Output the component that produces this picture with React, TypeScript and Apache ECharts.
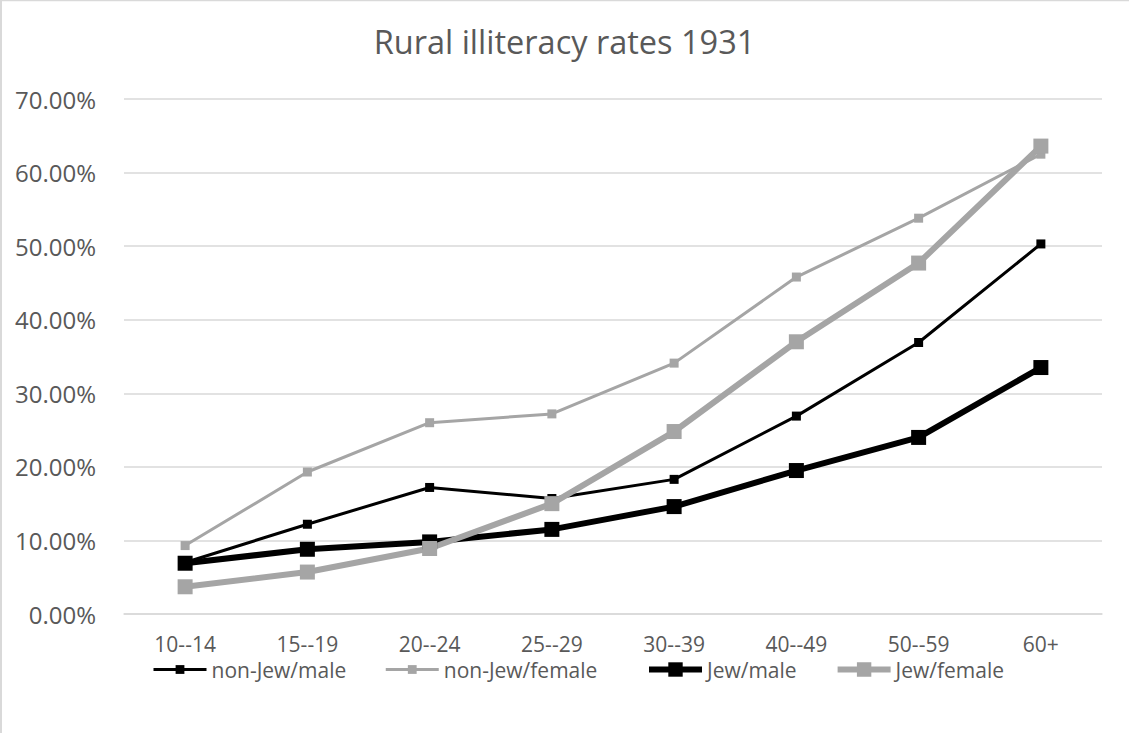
import React, { useEffect, useRef } from "react";
import * as echarts from "echarts";

// Age groups on the category axis
const ageGroups = ["10--14", "15--19", "20--24", "25--29", "30--39", "40--49", "50--59", "60+"];

// Illiteracy rates (%) per age group
const nonJewMale = [7.0, 12.2, 17.2, 15.7, 18.3, 26.9, 36.9, 50.3];
const nonJewFemale = [9.3, 19.3, 26.0, 27.2, 34.1, 45.8, 53.8, 62.5];
const jewMale = [6.9, 8.8, 9.8, 11.5, 14.6, 19.5, 24.0, 33.5];
const jewFemale = [3.7, 5.7, 8.9, 15.0, 24.8, 37.0, 47.7, 63.6];

const seriesNames = ["non-Jew/male", "non-Jew/female", "Jew/male", "Jew/female"];

const FONT = "Open Sans";
const TEXT = "#595959";
const GRID = "#d9d9d9";
const BLACK = "#000000";
const GREY = "#a5a5a5";

function lineSeries(name: string, data: number[], color: string, width: number, size: number) {
  return {
    name,
    type: "line",
    data,
    symbol: "rect",
    symbolSize: size,
    showSymbol: true,
    itemStyle: { color },
    lineStyle: { color, width },
    emphasis: { disabled: true },
  };
}

export default function App() {
  const ref = useRef<HTMLDivElement>(null);

  useEffect(() => {
    if (!ref.current) return;
    const chart = echarts.init(ref.current, undefined, { renderer: "svg" });
    chart.setOption({
      animation: false,
      backgroundColor: "#ffffff",
      textStyle: { fontFamily: FONT },
      title: {
        text: "Rural illiteracy rates 1931",
        left: "center",
        top: 20,
        textStyle: { fontFamily: FONT, fontSize: 32.5, fontWeight: "normal", color: TEXT },
      },
      grid: { left: 124, right: 27, top: 99, bottom: 119, containLabel: false },
      xAxis: {
        type: "category",
        data: ageGroups,
        boundaryGap: true,
        axisLine: { show: true, lineStyle: { color: GRID, width: 1.5 } },
        axisTick: { show: false },
        axisLabel: { color: TEXT, fontFamily: FONT, fontSize: 21, margin: 19 },
      },
      yAxis: {
        type: "value",
        min: 0,
        max: 70,
        interval: 10,
        axisLine: { show: false },
        axisTick: { show: false },
        splitLine: { lineStyle: { color: GRID, width: 1.5 } },
        axisLabel: {
          color: TEXT,
          fontFamily: FONT,
          fontSize: 24,
          margin: 28,
          formatter: (v: number) => v.toFixed(2) + "%",
        },
      },
      legend: [
        {
          data: [seriesNames[0], seriesNames[1]],
          left: 147,
          top: 654,
          itemWidth: 53,
          itemHeight: 11,
          itemGap: 38,
          lineStyle: { width: 3 },
          textStyle: { color: TEXT, fontFamily: FONT, fontSize: 21 },
        },
        {
          data: [seriesNames[2], seriesNames[3]],
          left: 641,
          top: 654,
          itemWidth: 53,
          itemHeight: 18,
          itemGap: 38,
          lineStyle: { width: 6 },
          textStyle: { color: TEXT, fontFamily: FONT, fontSize: 21 },
        },
      ],
      graphic: [
        { type: "line", shape: { x1: 1, y1: 0, x2: 1, y2: 733 }, style: { stroke: GRID, lineWidth: 2 } },
        { type: "line", shape: { x1: 0, y1: 0.5, x2: 1129, y2: 0.5 }, style: { stroke: GRID, lineWidth: 1.5 } },
      ],
      series: [
        lineSeries(seriesNames[0], nonJewMale, BLACK, 3, 9),
        lineSeries(seriesNames[1], nonJewFemale, GREY, 3, 9),
        lineSeries(seriesNames[2], jewMale, BLACK, 6, 15),
        lineSeries(seriesNames[3], jewFemale, GREY, 6, 15),
      ],
    });
    return () => chart.dispose();
  }, []);

  return (
    <div
      ref={ref}
      style={{ position: "fixed", left: 0, top: 0, width: 1129, height: 733, background: "#fff" }}
    />
  );
}
